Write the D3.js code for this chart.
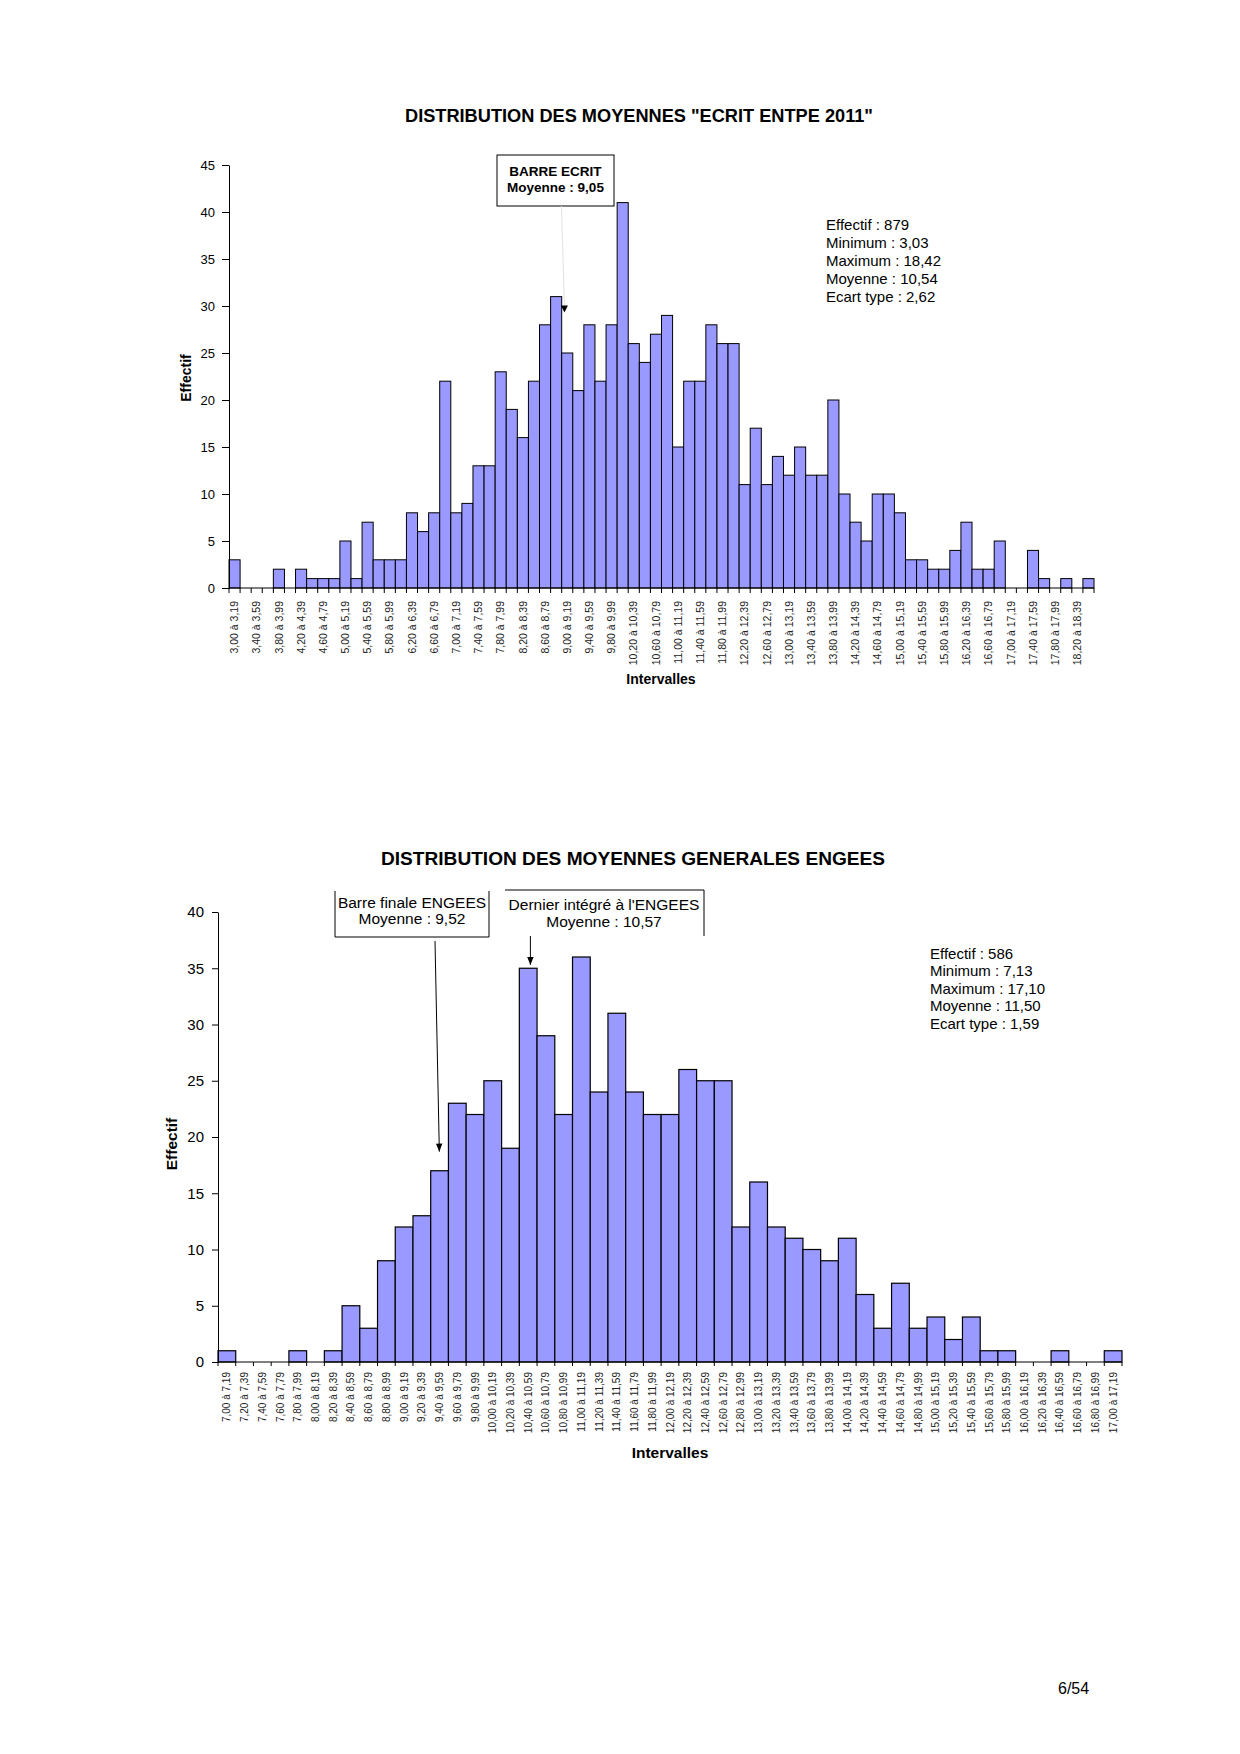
<!DOCTYPE html>
<html>
<head>
<meta charset="utf-8">
<script src="https://cdn.jsdelivr.net/npm/d3@7"></script>
<style>
  body { margin: 0; background: #fff; }
  svg { display: block; font-family: "Liberation Sans", Arial, sans-serif; }
</style>
</head>
<body>
<div id="page"></div>
<script>
// ---- data: ecrit ENTPE 2011 ----
var topBins = [
  "3,00 à 3,19", "3,20 à 3,39", "3,40 à 3,59", "3,60 à 3,79", "3,80 à 3,99",
  "4,00 à 4,19", "4,20 à 4,39", "4,40 à 4,59", "4,60 à 4,79", "4,80 à 4,99",
  "5,00 à 5,19", "5,20 à 5,39", "5,40 à 5,59", "5,60 à 5,79", "5,80 à 5,99",
  "6,00 à 6,19", "6,20 à 6,39", "6,40 à 6,59", "6,60 à 6,79", "6,80 à 6,99",
  "7,00 à 7,19", "7,20 à 7,39", "7,40 à 7,59", "7,60 à 7,79", "7,80 à 7,99",
  "8,00 à 8,19", "8,20 à 8,39", "8,40 à 8,59", "8,60 à 8,79", "8,80 à 8,99",
  "9,00 à 9,19", "9,20 à 9,39", "9,40 à 9,59", "9,60 à 9,79", "9,80 à 9,99",
  "10,00 à 10,19", "10,20 à 10,39", "10,40 à 10,59", "10,60 à 10,79", "10,80 à 10,99",
  "11,00 à 11,19", "11,20 à 11,39", "11,40 à 11,59", "11,60 à 11,79", "11,80 à 11,99",
  "12,00 à 12,19", "12,20 à 12,39", "12,40 à 12,59", "12,60 à 12,79", "12,80 à 12,99",
  "13,00 à 13,19", "13,20 à 13,39", "13,40 à 13,59", "13,60 à 13,79", "13,80 à 13,99",
  "14,00 à 14,19", "14,20 à 14,39", "14,40 à 14,59", "14,60 à 14,79", "14,80 à 14,99",
  "15,00 à 15,19", "15,20 à 15,39", "15,40 à 15,59", "15,60 à 15,79", "15,80 à 15,99",
  "16,00 à 16,19", "16,20 à 16,39", "16,40 à 16,59", "16,60 à 16,79", "16,80 à 16,99",
  "17,00 à 17,19", "17,20 à 17,39", "17,40 à 17,59", "17,60 à 17,79", "17,80 à 17,99",
  "18,00 à 18,19", "18,20 à 18,39", "18,40 à 18,59"
];
var topCounts = [
  3, 0, 0, 0, 2,   0, 2, 1, 1, 1,   5, 1, 7, 3, 3,   3, 8, 6, 8, 22,
  8, 9, 13, 13, 23,   19, 16, 22, 28, 31,   25, 21, 28, 22, 28,
  41, 26, 24, 27, 29,   15, 22, 22, 28, 26,   26, 11, 17, 11, 14,
  12, 15, 12, 12, 20,   10, 7, 5, 10, 10,   8, 3, 3, 2, 2,
  4, 7, 2, 2, 5,   0, 0, 4, 1, 0,   1, 0, 1
];
var topStats = ["Effectif : 879", "Minimum : 3,03", "Maximum : 18,42", "Moyenne : 10,54", "Ecart type : 2,62"];
var topMarker = { label: ["BARRE ECRIT", "Moyenne : 9,05"], value: 9.05, tip: 29.3 };

// ---- data: moyennes generales ENGEES ----
var bottomBins = [
  "7,00 à 7,19", "7,20 à 7,39", "7,40 à 7,59", "7,60 à 7,79", "7,80 à 7,99",
  "8,00 à 8,19", "8,20 à 8,39", "8,40 à 8,59", "8,60 à 8,79", "8,80 à 8,99",
  "9,00 à 9,19", "9,20 à 9,39", "9,40 à 9,59", "9,60 à 9,79", "9,80 à 9,99",
  "10,00 à 10,19", "10,20 à 10,39", "10,40 à 10,59", "10,60 à 10,79", "10,80 à 10,99",
  "11,00 à 11,19", "11,20 à 11,39", "11,40 à 11,59", "11,60 à 11,79", "11,80 à 11,99",
  "12,00 à 12,19", "12,20 à 12,39", "12,40 à 12,59", "12,60 à 12,79", "12,80 à 12,99",
  "13,00 à 13,19", "13,20 à 13,39", "13,40 à 13,59", "13,60 à 13,79", "13,80 à 13,99",
  "14,00 à 14,19", "14,20 à 14,39", "14,40 à 14,59", "14,60 à 14,79", "14,80 à 14,99",
  "15,00 à 15,19", "15,20 à 15,39", "15,40 à 15,59", "15,60 à 15,79", "15,80 à 15,99",
  "16,00 à 16,19", "16,20 à 16,39", "16,40 à 16,59", "16,60 à 16,79", "16,80 à 16,99",
  "17,00 à 17,19"
];
var bottomCounts = [
  1, 0, 0, 0, 1,   0, 1, 5, 3, 9,   12, 13, 17, 23, 22,
  25, 19, 35, 29, 22,   36, 24, 31, 24, 22,   22, 26, 25, 25, 12,
  16, 12, 11, 10, 9,   11, 6, 3, 7, 3,   4, 2, 4, 1, 1,
  0, 0, 1, 0, 0,   1
];
var bottomStats = ["Effectif : 586", "Minimum : 7,13", "Maximum : 17,10", "Moyenne : 11,50", "Ecart type : 1,59"];
var finalMarker = { label: ["Barre finale ENGEES", "Moyenne : 9,52"], value: 9.52, tip: 18.7 };
var lastMarker = { label: ["Dernier intégré à l'ENGEES", "Moyenne : 10,57"], value: 10.57, tip: 35.3 };

var W = 1240, H = 1754;
var svg = d3.select('#page').append('svg').attr('width', W).attr('height', H).attr('viewBox', [0, 0, W, H]);

svg.append('defs').append('marker')
  .attr('id', 'head').attr('viewBox', '0 0 10 10')
  .attr('refX', 10).attr('refY', 5)
  .attr('markerUnits', 'userSpaceOnUse')
  .attr('markerWidth', 9).attr('markerHeight', 8)
  .attr('orient', 'auto')
  .append('path').attr('d', 'M0,1L10,5L0,9Z').attr('fill', '#000');

// histogram with one tick per bin boundary
function histogram(o) {
  var g = svg.append('g');
  var x = d3.scaleBand().domain(o.bins).range([o.left, o.right]).padding(0);
  var y = d3.scaleLinear().domain([0, o.yMax]).range([o.bottom, o.top]);
  var bw = x.bandwidth();

  var data = o.counts.map(function (c, i) { return { bin: o.bins[i], n: c }; });

  g.append('g').selectAll('rect').data(data.filter(function (d) { return d.n > 0; })).join('rect')
    .attr('x', function (d) { return x(d.bin); })
    .attr('y', function (d) { return y(d.n); })
    .attr('width', bw)
    .attr('height', function (d) { return y(0) - y(d.n); })
    .attr('fill', '#9999ff')
    .attr('stroke', '#000')
    .attr('stroke-width', o.sw);

  // x axis
  g.append('line').attr('x1', o.left).attr('x2', o.right).attr('y1', y(0)).attr('y2', y(0))
    .attr('stroke', '#000').attr('stroke-width', 1);
  g.append('g').selectAll('line').data(d3.range(o.bins.length + 1)).join('line')
    .attr('x1', function (i) { return o.left + i * bw; })
    .attr('x2', function (i) { return o.left + i * bw; })
    .attr('y1', y(0)).attr('y2', y(0) + o.tick)
    .attr('stroke', '#000').attr('stroke-width', 1);

  g.append('g').attr('font-size', o.labelSize).attr('fill', '#222')
    .selectAll('text').data(o.bins.filter(function (b, i) { return i % o.every === 0; })).join('text')
    .attr('transform', function (b) {
      return 'translate(' + (x(b) + bw / 2) + ',' + (y(0) + o.labelGap) + ') rotate(-90)';
    })
    .attr('text-anchor', 'end')
    .attr('dy', '0.35em')
    .text(function (b) { return b; });

  // y axis
  var ay = g.append('g').attr('transform', 'translate(' + o.left + ',0)')
    .call(d3.axisLeft(y).tickValues(d3.range(0, o.yMax + 1, 5)).tickSize(o.ytick).tickSizeOuter(0).tickPadding(o.ypad));
  ay.select('.domain').attr('stroke', '#000');
  ay.selectAll('.tick line').attr('stroke', '#000');
  ay.selectAll('text').attr('font-size', o.ySize).attr('font-family', 'inherit').attr('fill', '#000');

  // axis titles
  g.append('text').attr('x', o.xTitle[0]).attr('y', o.xTitle[1]).attr('text-anchor', 'middle')
    .attr('font-weight', 'bold').attr('font-size', o.titleSize).text('Intervalles');
  g.append('text').attr('transform', 'translate(' + o.yTitle[0] + ',' + o.yTitle[1] + ') rotate(-90)')
    .attr('text-anchor', 'middle').attr('dy', '0.35em')
    .attr('font-weight', 'bold').attr('font-size', o.titleSize).text('Effectif');

  // stats block
  g.append('g').attr('font-size', o.statSize).selectAll('text').data(o.stats).join('text')
    .attr('x', o.statPos[0])
    .attr('y', function (d, i) { return o.statPos[1] + i * o.statStep; })
    .text(function (d) { return d; });

  // chart title
  g.append('text').attr('x', o.title.x).attr('y', o.title.y).attr('text-anchor', 'middle')
    .attr('font-weight', 'bold').attr('font-size', o.title.size)
    .attr('textLength', o.title.len).attr('lengthAdjust', 'spacingAndGlyphs')
    .text(o.title.text);

  return { g: g, xv: d3.scaleLinear().domain(o.valueDomain).range([o.left, o.right]), y: y };
}

// ---------- top chart ----------
var topChart = histogram({
  bins: topBins, counts: topCounts,
  left: 229, right: 1094, bottom: 588, top: 165, yMax: 45,
  sw: 1, tick: 5, labelGap: 13, labelSize: 10.5, every: 2,
  ytick: 7, ypad: 7, ySize: 13,
  xTitle: [661, 684], yTitle: [186, 378], titleSize: 14,
  stats: topStats, statPos: [826, 230], statStep: 18, statSize: 15,
  title: { text: 'DISTRIBUTION DES MOYENNES "ECRIT ENTPE 2011"', x: 639, y: 122, size: 19, len: 468 },
  valueDomain: [3.0, 18.6]
});

(function () {
  var g = topChart.g, xm = topChart.xv(topMarker.value), ym = topChart.y(topMarker.tip);
  g.append('rect').attr('x', 497).attr('y', 155).attr('width', 117).attr('height', 51)
    .attr('fill', '#fff').attr('stroke', '#000').attr('stroke-width', 1);
  g.append('g').attr('font-weight', 'bold').attr('font-size', 13.5).attr('text-anchor', 'middle')
    .selectAll('text').data(topMarker.label).join('text')
    .attr('x', 555.5).attr('y', function (d, i) { return 176 + i * 16; }).text(function (d) { return d; });
  g.append('line').attr('x1', xm - 3).attr('y1', 206).attr('x2', xm).attr('y2', ym - 6)
    .attr('stroke', '#e2e2e2').attr('stroke-width', 1);
  g.append('path').attr('d', 'M' + (xm - 3.5) + ',' + (ym - 7) + 'L' + (xm + 3.5) + ',' + (ym - 7) + 'L' + xm + ',' + ym + 'Z')
    .attr('fill', '#000');
})();

// ---------- bottom chart ----------
var botChart = histogram({
  bins: bottomBins, counts: bottomCounts,
  left: 218, right: 1122, bottom: 1362, top: 912, yMax: 40,
  sw: 1.2, tick: 4, labelGap: 10, labelSize: 10, every: 1,
  ytick: 6, ypad: 8, ySize: 15,
  xTitle: [670, 1458], yTitle: [172, 1144], titleSize: 15.5,
  stats: bottomStats, statPos: [930, 959], statStep: 17.4, statSize: 15,
  title: { text: 'DISTRIBUTION DES MOYENNES GENERALES ENGEES', x: 633, y: 865, size: 18.5, len: 504 },
  valueDomain: [7.0, 17.2]
});

(function () {
  var g = botChart.g;
  // box "Barre finale": left, bottom and right sides
  g.append('path').attr('d', 'M335,891V937H489V891').attr('fill', 'none').attr('stroke', '#000').attr('stroke-width', 1);
  // box "Dernier intégré": top and right sides
  g.append('path').attr('d', 'M505,890H704V936').attr('fill', 'none').attr('stroke', '#000').attr('stroke-width', 1);

  g.append('g').attr('font-size', 15.5).attr('text-anchor', 'middle')
    .selectAll('text').data(finalMarker.label).join('text')
    .attr('x', 412).attr('y', function (d, i) { return 908 + i * 16; }).text(function (d) { return d; });
  g.append('g').attr('font-size', 15.5).attr('text-anchor', 'middle')
    .selectAll('text').data(lastMarker.label).join('text')
    .attr('x', 604).attr('y', function (d, i) { return 910 + i * 17; }).text(function (d) { return d; });

  g.append('line').attr('x1', 435).attr('y1', 941)
    .attr('x2', botChart.xv(finalMarker.value) - 2).attr('y2', botChart.y(finalMarker.tip))
    .attr('stroke', '#000').attr('stroke-width', 1).attr('marker-end', 'url(#head)');
  var x2 = botChart.xv(lastMarker.value) - 4;
  g.append('line').attr('x1', x2).attr('y1', 936)
    .attr('x2', x2).attr('y2', botChart.y(lastMarker.tip))
    .attr('stroke', '#000').attr('stroke-width', 1).attr('marker-end', 'url(#head)');
})();

svg.append('text').attr('x', 1058).attr('y', 1694).attr('font-size', 16).text('6/54');
</script>
</body>
</html>
